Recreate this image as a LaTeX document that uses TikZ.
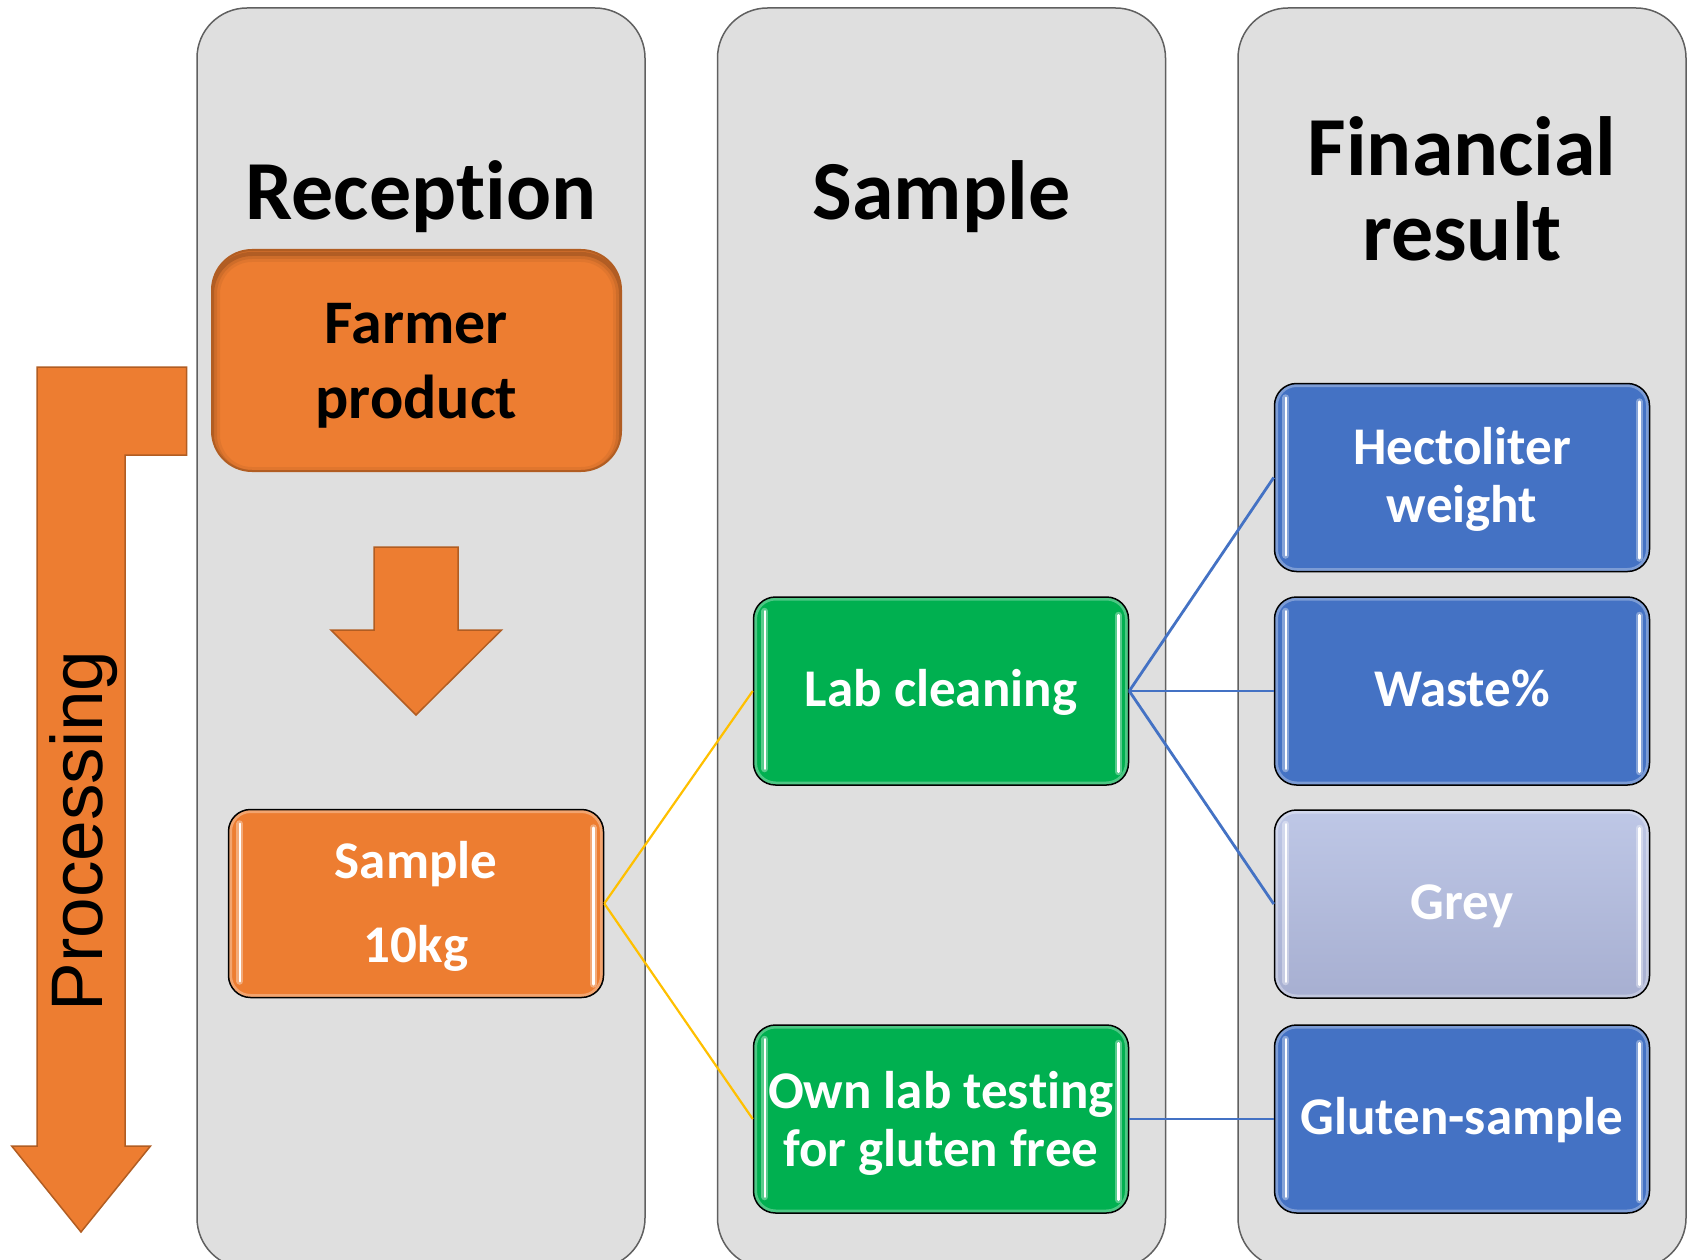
\documentclass[tikz,border=0pt]{standalone}
\usepackage{fontspec}
\setmainfont{Carlito}[Ligatures=NoCommon, RawFeature={-liga;-dlig;-calt}]
\newfontfamily\procfont{Liberation Sans}
\definecolor{panelgray}{HTML}{DFDFDF}
\definecolor{panelline}{HTML}{606060}
\definecolor{orng}{HTML}{ED7D31}
\definecolor{orngdark}{HTML}{B15D22}
\definecolor{grn}{HTML}{00B050}
\definecolor{blu}{HTML}{4472C4}
\definecolor{greyT}{HTML}{BEC7E6}
\definecolor{greyB}{HTML}{A7AFD1}
\definecolor{yel}{HTML}{FFC000}
\tikzset{
  panel/.style={draw=panelline, line width=1.5pt, fill=panelgray, rounded corners=50pt,
    minimum width=448pt, minimum height=1260pt, inner sep=0pt},
  coltitle/.style={font=\fontsize{84}{83}\selectfont\bfseries, inner sep=0pt, align=center},
  gbox/.style={draw=black, line width=1.5pt, rounded corners=22pt, minimum width=375pt,
    minimum height=188pt, inner sep=0pt, text=white, align=center,
    font=\fontsize{53}{78}\selectfont\bfseries,
    path picture={\draw[white, opacity=0.3, line width=7pt, rounded corners=22pt]
      (path picture bounding box.north west) rectangle (path picture bounding box.south east);}},
  farmerbox/.style={draw=orngdark, line width=2pt, fill=orng, rounded corners=40pt,
    minimum width=409pt, minimum height=221pt, inner sep=0pt, align=center,
    font=\fontsize{62}{75}\selectfont\bfseries,
    path picture={\foreach \w/\op in {4/0.14,10/0.08,16/0.05}{
      \draw[black, opacity=\op, line width=\w pt, rounded corners=40pt]
      ([yshift=-4pt]path picture bounding box.north west) rectangle
      ([yshift=-4pt]path picture bounding box.south east);}}},
  blockarrow/.style={fill=orng, draw=orngdark, line width=1.5pt, line join=miter},
  hlglow/.style={white, opacity=0.35, line width=7pt, line cap=round},
  hlline/.style={white, line width=2.5pt, line cap=round},
  yellink/.style={draw=yel, line width=2.2pt},
  blulink/.style={draw=blu, line width=2.8pt},
}
\newcommand\glosshl[1]{%
  \draw[hlglow] ([shift={(12pt,-15pt)}]#1.north west) -- ([shift={(12pt,17pt)}]#1.south west);
  \draw[hlline] ([shift={(12pt,-15pt)}]#1.north west) -- ([shift={(12pt,17pt)}]#1.south west);
  \draw[hlglow] ([shift={(-11pt,-19pt)}]#1.north east) -- ([shift={(-11pt,14pt)}]#1.south east);
  \draw[hlline] ([shift={(-11pt,-19pt)}]#1.north east) -- ([shift={(-11pt,14pt)}]#1.south east);
}
\begin{document}
\begin{tikzpicture}[x=1pt, y=-1pt]
\useasboundingbox (0,0) rectangle (1687,1260);
\fill[white] (0,0) rectangle (1687,1260);

% panels
\node[panel] (col1) at (421,638) {};
\node[panel] (col2) at (941.5,638) {};
\node[panel] (col3) at (1462,638) {};

% titles
\node[coltitle, anchor=base] (t1) at (421,220) {Recep\kern0pt tion};
\node[coltitle, anchor=base] (t2) at (941.5,220) {Sample};
\node[coltitle] (t3) at (1462,201) {\strut Financial\\\strut result};

% processing arrow
\draw[blockarrow] (37,367) -- (186.5,367) -- (186.5,455) -- (125,455) -- (125,1146)
  -- (150.5,1146) -- (81,1232) -- (11.7,1146) -- (37,1146) -- cycle;
\node[font=\procfont\fontsize{73}{73}\selectfont, rotate=90, anchor=base, inner sep=0pt]
  (proc) at (102,831) {Processing};

% farmer product and down arrow
\node[farmerbox] (farmer) at (416.5,360.5) {\rule{0pt}{62.5pt}Farmer\\\strut product};
\draw[blockarrow] (374,547) -- (458,547) -- (458,630) -- (501.5,630) -- (416,715)
  -- (331,630) -- (374,630) -- cycle;

% boxes
\node[gbox, fill=orng, font=\fontsize{53}{84}\selectfont\bfseries] (samp) at (416,903.5)
  {\strut Sample\\\strut 10kg};
\node[gbox, fill=grn] (lab) at (941,691) {\strut Lab cleaning};
\node[gbox, fill=grn, font=\fontsize{53}{58}\selectfont\bfseries] (own) at (941,1119)
  {\rule{0pt}{53.6pt}Own lab tes\kern0pt ting\\\strut for gluten free};
\node[gbox, fill=blu, font=\fontsize{53}{58}\selectfont\bfseries] (hecto) at (1462,477.5)
  {\rule{0pt}{49.2pt}Hectoliter\\\strut weight};
\node[gbox, fill=blu] (waste) at (1462,691) {\strut Waste\%};
\node[gbox, top color=greyT, bottom color=greyB] (grey) at (1462,904) {\strut Grey};
\node[gbox, fill=blu] (gluten) at (1462,1119) {\strut Gluten-sample};

\glosshl{samp}
\glosshl{lab}
\glosshl{own}
\glosshl{hecto}
\glosshl{waste}
\glosshl{grey}
\glosshl{gluten}

% connectors
\draw[yellink] (samp.east) -- (lab.west);
\draw[yellink] (samp.east) -- (own.west);
\draw[blulink] (lab.east) -- (hecto.west);
\draw[blulink] (lab.east) -- (waste.west);
\draw[blulink] (lab.east) -- (grey.west);
\draw[blulink] (own.east) -- (gluten.west);
\end{tikzpicture}
\end{document}
